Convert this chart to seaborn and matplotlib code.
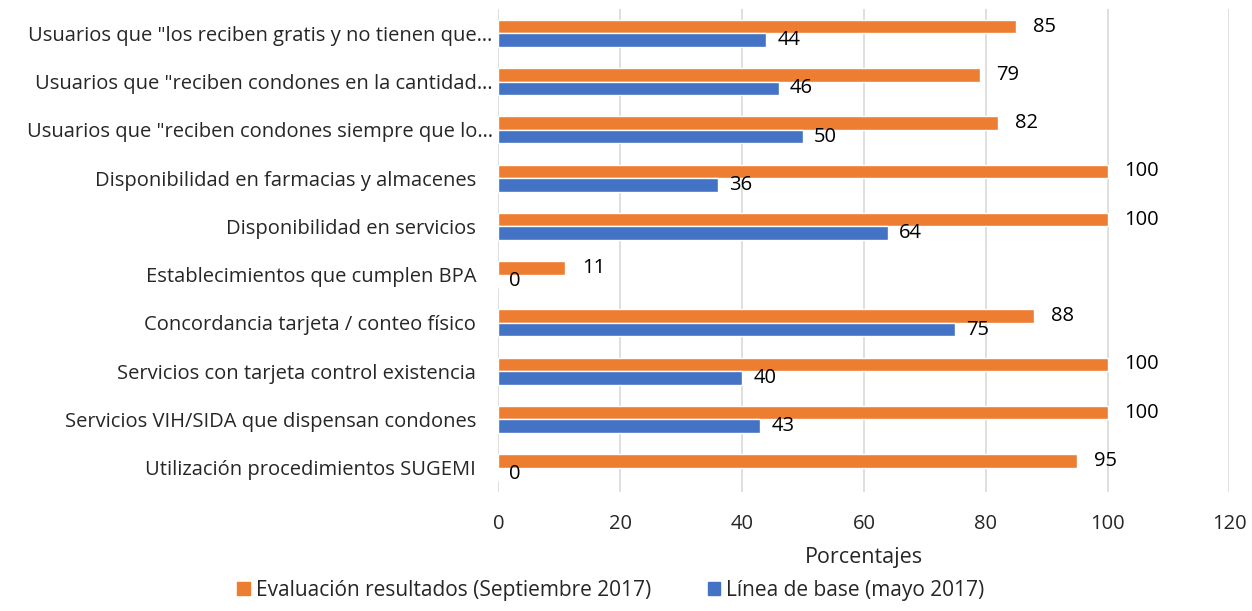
import matplotlib
matplotlib.use('Agg')
import matplotlib.pyplot as plt
import matplotlib.transforms as mtransforms
import seaborn as sns
import pandas as pd

# Data (top to bottom)
categorias = [
    'Usuarios que "los reciben gratis y no tienen que…',
    'Usuarios que "reciben condones en la cantidad…',
    'Usuarios que "reciben condones siempre que lo…',
    'Disponibilidad en farmacias y almacenes',
    'Disponibilidad en servicios',
    'Establecimientos que cumplen BPA',
    'Concordancia tarjeta / conteo físico',
    'Servicios con tarjeta control existencia',
    'Servicios VIH/SIDA que dispensan condones',
    'Utilización procedimientos SUGEMI',
]
evaluacion = [85, 79, 82, 100, 100, 11, 88, 100, 100, 95]
linea_base = [44, 46, 50, 36, 64, 0, 75, 40, 43, 0]
series = ['Evaluación resultados (Septiembre 2017)', 'Línea de base (mayo 2017)']
colores = ['#ED7D31', '#4472C4']
x_ticks = [0, 20, 40, 60, 80, 100, 120]

df = pd.DataFrame({
    'Categoria': categorias * 2,
    'Valor': evaluacion + linea_base,
    'Serie': [series[0]] * len(categorias) + [series[1]] * len(categorias),
})

sns.set_style('white')
plt.rcParams['font.family'] = ['Open Sans', 'DejaVu Sans']
fs = 14.5

fig = plt.figure(figsize=(12.52, 6.11), dpi=100)
ax = fig.add_axes([0.398, 0.195, 0.584, 0.79])

sns.barplot(data=df, y='Categoria', x='Valor', hue='Serie', hue_order=series,
            palette=colores, orient='h', width=0.56, saturation=1, ax=ax,
            legend=False)

for cont, pad in zip(ax.containers, [12, 8]):
    ax.bar_label(cont, fmt='%g', padding=pad, fontsize=fs, color='#000000')

ax.set_xlim(0, 120)
ax.set_xticks(x_ticks)
ax.xaxis.grid(True, color='#D9D9D9', linewidth=1.2)
ax.set_axisbelow(True)
for s in ax.spines.values():
    s.set_visible(False)
ax.tick_params(axis='x', labelsize=fs, pad=16, length=0)
ax.tick_params(axis='y', labelsize=fs, pad=16, length=0)
ax.set_ylabel('')
ax.set_xlabel('Porcentajes', fontsize=15.5, labelpad=9)

# truncated labels stick out a bit further to the right (like the original)
for lab in ax.get_yticklabels():
    if lab.get_text().endswith('…'):
        lab.set_transform(lab.get_transform() +
                          mtransforms.ScaledTranslation(12 / 72, 0, fig.dpi_scale_trans))

handles = [plt.Rectangle((0, 0), 1, 1, color=c) for c in colores]
fig.legend(handles, series, loc='center', bbox_to_anchor=(0.488, 0.034), ncol=2,
           frameon=False, fontsize=15, handlelength=0.6, handleheight=0.6,
           handletextpad=0.3, columnspacing=2.7)

fig.savefig('out.png', dpi=100)
